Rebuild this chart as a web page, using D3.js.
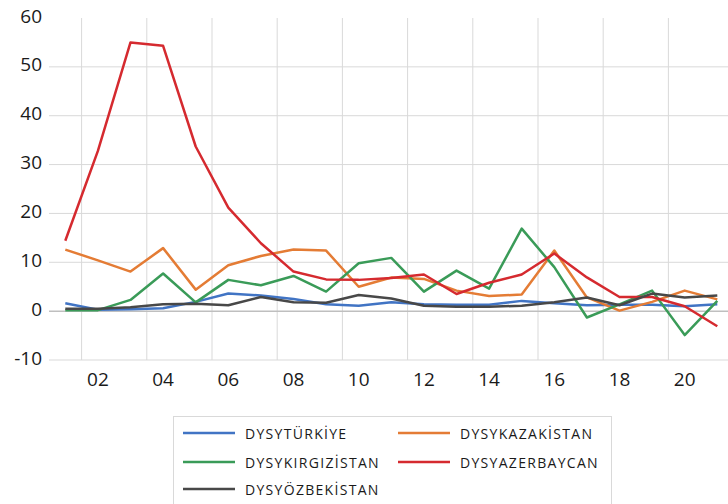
<!DOCTYPE html>
<html>
<head>
<meta charset="utf-8">
<script src="https://cdn.jsdelivr.net/npm/d3@7/dist/d3.min.js"></script>
<style>
  html, body { margin: 0; padding: 0; background: #fff; }
  svg { display: block; font-family: "Open Sans", "Noto Sans", sans-serif; }
</style>
</head>
<body>
<svg id="chart" width="728" height="504"></svg>
<script>
// Years shown on the category axis (2001–2021)
const years = ["01","02","03","04","05","06","07","08","09","10","11","12","13","14","15","16","17","18","19","20","21"];
const yTicks = [-10, 0, 10, 20, 30, 40, 50, 60];

const turkiye     = [1.6, 0.3, 0.4, 0.6, 1.9, 3.6, 3.2, 2.5, 1.4, 1.1, 1.8, 1.4, 1.3, 1.3, 2.1, 1.6, 1.2, 1.3, 1.3, 1.0, 1.4];
const kazakistan  = [12.6, 10.4, 8.1, 12.9, 4.4, 9.4, 11.3, 12.6, 12.4, 5.0, 6.9, 6.6, 4.2, 3.1, 3.4, 12.4, 2.8, 0.1, 1.9, 4.2, 2.4];
const kirgizistan = [0.2, 0.2, 2.3, 7.7, 1.8, 6.4, 5.3, 7.2, 4.0, 9.8, 10.9, 4.0, 8.3, 4.6, 16.9, 9.0, -1.3, 1.4, 4.2, -4.9, 2.1];
const azerbaycan  = [14.4, 32.8, 55.0, 54.3, 33.7, 21.2, 13.9, 8.1, 6.5, 6.4, 6.8, 7.5, 3.5, 5.8, 7.5, 11.8, 6.9, 2.9, 2.9, 1.0, -3.1];
const ozbekistan  = [0.5, 0.5, 0.8, 1.4, 1.5, 1.2, 2.9, 1.8, 1.7, 3.3, 2.6, 1.1, 0.9, 0.9, 1.1, 1.8, 2.8, 1.2, 3.6, 2.8, 3.2];

const seriesNames  = ["DYSYTÜRKİYE", "DYSYKAZAKİSTAN", "DYSYKIRGIZİSTAN", "DYSYAZERBAYCAN", "DYSYÖZBEKİSTAN"];
const seriesValues = [turkiye, kazakistan, kirgizistan, azerbaycan, ozbekistan];
const seriesColors = ["#4174c4", "#e47c35", "#3a9b58", "#d52a2f", "#484848"];

const svg = d3.select("#chart");

const x = d3.scaleBand().domain(years).range([49, 49 + 21 * 32.6]).padding(0);
const y = d3.scaleLinear().domain([-10, 60]).range([360, 18]);
const cx = d => x(d) + x.bandwidth() / 2;

// Horizontal gridlines (none at the top edge)
svg.append("g").selectAll("line")
  .data(yTicks.filter(v => v !== 0 && v !== 60))
  .join("line")
  .attr("x1", 49).attr("x2", 728)
  .attr("y1", d => y(d)).attr("y2", d => y(d))
  .attr("stroke", "#d9d9d9").attr("stroke-width", 1);

// Vertical gridlines at the boundary before each labelled year
const labelled = years.filter((d, i) => i % 2 === 1);
svg.append("g").selectAll("line")
  .data(labelled)
  .join("line")
  .attr("x1", d => x(d)).attr("x2", d => x(d))
  .attr("y1", y(60)).attr("y2", y(-10))
  .attr("stroke", "#d9d9d9").attr("stroke-width", 1);

// Zero axis line
svg.append("line")
  .attr("x1", 49).attr("x2", 728)
  .attr("y1", y(0)).attr("y2", y(0))
  .attr("stroke", "#bfbfbf").attr("stroke-width", 1.5);

// Value axis labels
svg.append("g").selectAll("text")
  .data(yTicks)
  .join("text")
  .attr("x", 42).attr("y", d => y(d) - 2.5)
  .attr("text-anchor", "end").attr("dominant-baseline", "central")
  .attr("font-size", 19).attr("fill", "#1a1a1a")
  .text(d => d);

// Category axis labels
svg.append("g").selectAll("text")
  .data(labelled)
  .join("text")
  .attr("x", d => cx(d)).attr("y", 378.5)
  .attr("text-anchor", "middle").attr("dominant-baseline", "central")
  .attr("font-size", 19).attr("fill", "#1a1a1a")
  .text(d => d);

// Series lines
const line = d3.line().x((v, i) => cx(years[i])).y(v => y(v));
svg.append("g").selectAll("path")
  .data(seriesValues)
  .join("path")
  .attr("d", d => line(d))
  .attr("fill", "none")
  .attr("stroke", (d, i) => seriesColors[i])
  .attr("stroke-width", 2.5)
  .attr("stroke-linejoin", "round");

// Legend
const legend = svg.append("g");
legend.append("rect")
  .attr("x", 173.5).attr("y", 416.5).attr("width", 438).attr("height", 100)
  .attr("fill", "#fff").attr("stroke", "#d9d9d9");
const legPos = [[183, 433], [398, 433], [183, 462], [398, 462], [183, 489]];
seriesNames.forEach((name, i) => {
  const [lx, ly] = legPos[i];
  legend.append("line")
    .attr("x1", lx).attr("x2", lx + 52).attr("y1", ly).attr("y2", ly)
    .attr("stroke", seriesColors[i]).attr("stroke-width", 2.5);
  legend.append("text")
    .attr("x", lx + 62).attr("y", ly)
    .attr("dominant-baseline", "central")
    .attr("font-size", 14).attr("letter-spacing", 1.3).attr("fill", "#1a1a1a")
    .text(name);
});
</script>
</body>
</html>
